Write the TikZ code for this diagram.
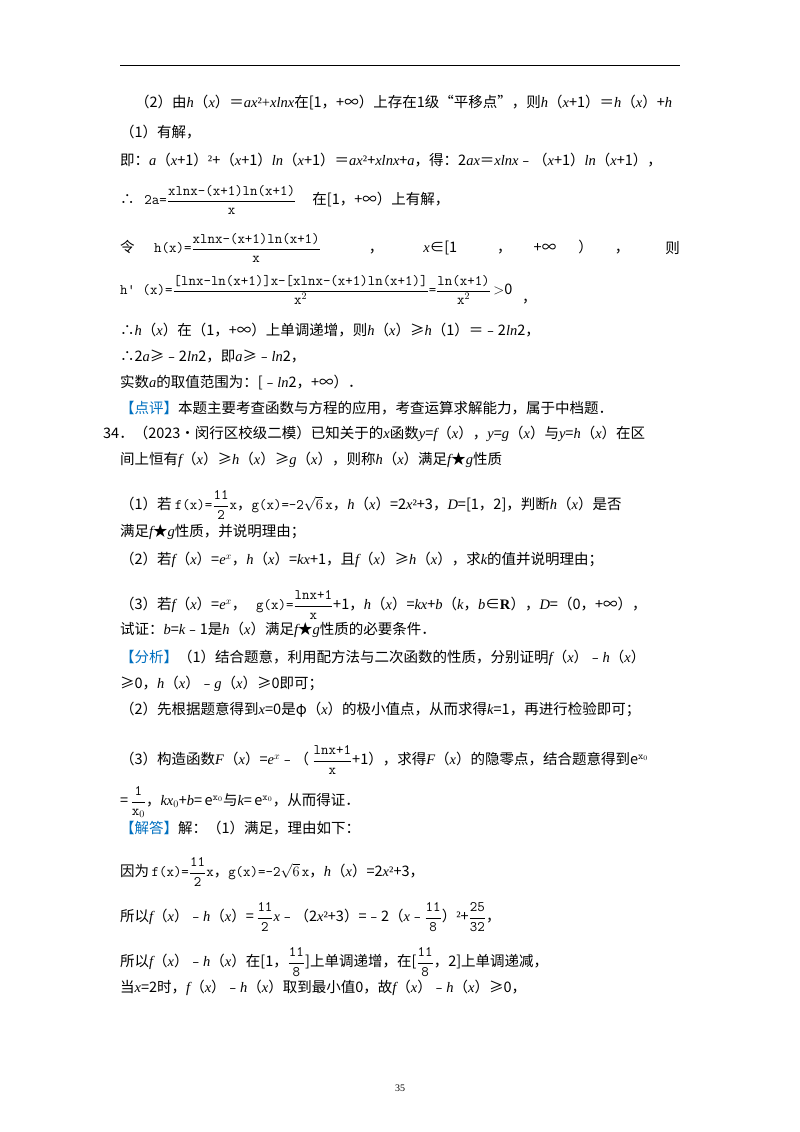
\documentclass[tikz,border=0pt]{standalone}
\usepackage{fontspec}
\setmainfont{Liberation Serif}
\newfontfamily\cjk{Noto Sans CJK SC}
\newcommand\vi[1]{{\rmfamily\itshape #1}}
\newcommand\vr[1]{{\rmfamily #1}}
\newcommand\tf[2]{$\displaystyle\frac{\hbox{\ttfamily #1}}{\hbox{\ttfamily #2}}$}
\definecolor{tagblue}{RGB}{0,112,192}
\newcommand\tag[1]{{\color{tagblue}【#1】}}
\begin{document}
\begin{tikzpicture}[x=1pt,y=1pt,L/.style={anchor=west,inner sep=0pt,font=\cjk\fontsize{14.5}{17}\selectfont}]
\useasboundingbox (0,0) rectangle (800,-1132);
\fill[white] (0,0) rectangle (800,-1132);
\draw[line width=0.8pt] (120,-65) -- (680,-65);
\node[L] (l1) at (135,-103) {（2）由\vi{h}（\vi{x}）＝\vi{ax}\vr{²+}\vi{xlnx}在[1，+∞）上存在1级“平移点”，则\vi{h}（\vi{x}+1）＝\vi{h}（\vi{x}）+\vi{h}};
\node[L] (l2) at (120,-132) {（1）有解，};
\node[L] (l3) at (120,-160) {即：\vi{a}（\vi{x}+1）\vr{²}+（\vi{x}+1）\vi{ln}（\vi{x}+1）＝\vi{ax}\vr{²}+\vi{xlnx}+\vi{a}，得：2\vi{ax}＝\vi{xlnx}﹣（\vi{x}+1）\vi{ln}（\vi{x}+1），};
\node[L] (l4) at (120,-200) {∴\ \ \ {\ttfamily 2a=}\tf{xlnx-(x+1)ln(x+1)}{x}\ \ \ \ \ 在[1，+∞）上有解，};
\node[L] (l5) at (120,-248) {令\ \ \ \ \ \ {\ttfamily h(x)=}\tf{xlnx-(x+1)ln(x+1)}{x}\hspace{48pt}，\hspace{40pt}\vi{x}∈[1\hspace{40pt}，\hspace{22pt}+∞\hspace{22pt}）\hspace{22pt}，};
\node[L,anchor=east] (l5b) at (680,-248) {则};
\node[L] (l6) at (120,-290) {{\ttfamily h\textquotesingle\ (x)=}\tf{[lnx-ln(x+1)]x-[xlnx-(x+1)ln(x+1)]}{x$^2$}{\ttfamily =}\tf{ln(x+1)}{x$^2$}\,$>$0\ \ \ \raisebox{-8pt}{，}};
\node[L] (l7) at (120,-330) {∴\vi{h}（\vi{x}）在（1，+∞）上单调递增，则\vi{h}（\vi{x}）≥\vi{h}（1）＝﹣2\vi{ln}2，};
\node[L] (l8) at (120,-357) {∴2\vi{a}≥﹣2\vi{ln}2，即\vi{a}≥﹣\vi{ln}2，};
\node[L] (l9) at (120,-383) {实数\vi{a}的取值范围为：[﹣\vi{ln}2，+∞）．};
\node[L] (l10) at (120,-408) {\tag{点评}本题主要考查函数与方程的应用，考查运算求解能力，属于中档题．};
\node[L] (l11) at (103,-434) {34．（2023•闵行区校级二模）已知关于的\vi{x}函数\vi{y}=\vi{f}（\vi{x}），\vi{y}=\vi{g}（\vi{x}）与\vi{y}=\vi{h}（\vi{x}）在区};
\node[L] (l12) at (120,-460) {间上恒有\vi{f}（\vi{x}）≥\vi{h}（\vi{x}）≥\vi{g}（\vi{x}），则称\vi{h}（\vi{x}）满足\vi{f}★\vi{g}性质};
\node[L] (l13) at (120,-505) {（1）若\ {\ttfamily f(x)=}\tf{11}{2}{\ttfamily x}，{\ttfamily g(x)=-2$\sqrt{6}$\,x}，\vi{h}（\vi{x}）=2\vi{x}\vr{²}+3，\vi{D}=[1，2]，判断\vi{h}（\vi{x}）是否};
\node[L] (l14) at (120,-532) {满足\vi{f}★\vi{g}性质，并说明理由；};
\node[L] (l15) at (120,-560) {（2）若\vi{f}（\vi{x}）=\vi{e}$^{x}$，\vi{h}（\vi{x}）=\vi{kx}+1，且\vi{f}（\vi{x}）≥\vi{h}（\vi{x}），求\vi{k}的值并说明理由；};
\node[L] (l16) at (120,-605) {（3）若\vi{f}（\vi{x}）=\vi{e}$^{x}$，\ \ \ {\ttfamily g(x)=}\tf{lnx+1}{x}+1，\vi{h}（\vi{x}）=\vi{kx}+\vi{b}（\vi{k}，\vi{b}∈\vr{\textbf{R}}），\vi{D}=（0，+∞），};
\node[L] (l17) at (120,-630) {试证：\vi{b}=\vi{k}﹣1是\vi{h}（\vi{x}）满足\vi{f}★\vi{g}性质的必要条件．};
\node[L] (l18) at (120,-658) {\tag{分析}（1）结合题意，利用配方法与二次函数的性质，分别证明\vi{f}（\vi{x}）﹣\vi{h}（\vi{x}）};
\node[L] (l19) at (120,-684) {≥0，\vi{h}（\vi{x}）﹣\vi{g}（\vi{x}）≥0即可；};
\node[L] (l20) at (120,-710) {（2）先根据题意得到\vi{x}=0是φ（\vi{x}）的极小值点，从而求得\vi{k}=1，再进行检验即可；};
\node[L] (l21) at (120,-760) {（3）构造函数\vi{F}（\vi{x}）=\vi{e}$^{x}$﹣（\ \tf{lnx+1}{x}+1），求得\vi{F}（\vi{x}）的隐零点，结合题意得到e$^{\mathtt{x}_0}$};
\node[L] (l22) at (120,-802) {=\,\tf{1}{x$_0$}，\vi{kx}$_0$+\vi{b}=\,e$^{\mathtt{x}_0}$与\vi{k}=\,e$^{\mathtt{x}_0}$，从而得证．};
\node[L] (l23) at (120,-828) {\tag{解答}解：（1）满足，理由如下：};
\node[L] (l24) at (120,-872) {因为\,{\ttfamily f(x)=}\tf{11}{2}{\ttfamily x}，{\ttfamily g(x)=-2$\sqrt{6}$\,x}，\vi{h}（\vi{x}）=2\vi{x}\vr{²}+3，};
\node[L] (l25) at (120,-917) {所以\vi{f}（\vi{x}）﹣\vi{h}（\vi{x}）=\,\tf{11}{2}\vi{x}﹣（2\vi{x}\vr{²}+3）=﹣2（\vi{x}﹣\tf{11}{8}）\vr{²}+\tf{25}{32}，};
\node[L] (l26) at (120,-962) {所以\vi{f}（\vi{x}）﹣\vi{h}（\vi{x}）在[1，\tf{11}{8}]上单调递增，在[\tf{11}{8}，2]上单调递减，};
\node[L] (l27) at (120,-988) {当\vi{x}=2时，\vi{f}（\vi{x}）﹣\vi{h}（\vi{x}）取到最小值0，故\vi{f}（\vi{x}）﹣\vi{h}（\vi{x}）≥0，};
\node[font=\rmfamily\fontsize{10}{12}\selectfont] (pg) at (400,-1088) {35};
\end{tikzpicture}
\end{document}
